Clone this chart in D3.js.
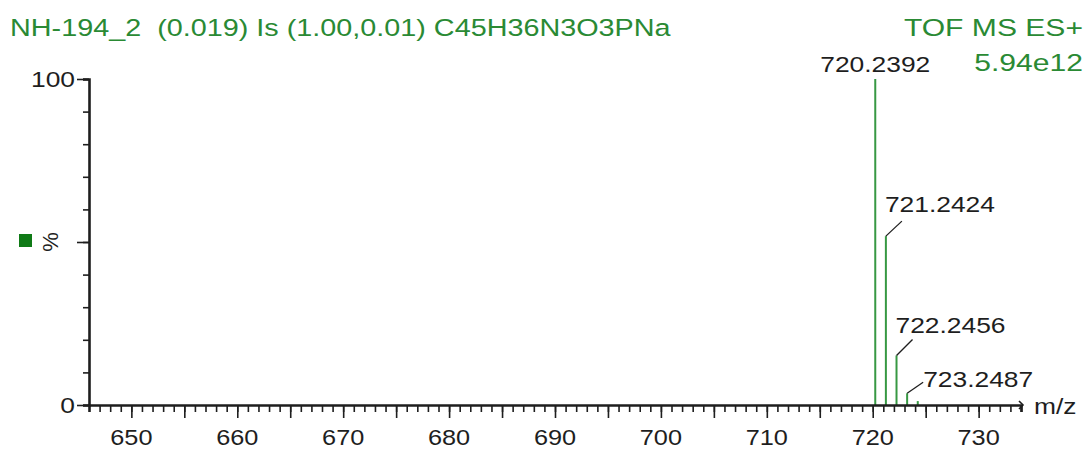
<!DOCTYPE html>
<html>
<head>
<meta charset="utf-8">
<script src="https://cdn.jsdelivr.net/npm/d3@7"></script>
<style>
  html, body { margin: 0; padding: 0; background: #fff; }
  svg { display: block; }
  text { font-family: "Liberation Sans", Arial, sans-serif; white-space: pre; }
</style>
</head>
<body>
<svg id="chart" width="1091" height="449"></svg>
<script>
// Spectrum header
const titleText = "NH-194_2  (0.019) Is (1.00,0.01) C45H36N3O3PNa";
const modeText = "TOF MS ES+";
const intensityText = "5.94e12";

// Isotope peaks (m/z, relative intensity %)
const peakMz = [720.2392, 721.2424, 722.2456, 723.2487, 724.2519];
const peakIntensity = [100, 51.8, 15.2, 3.6, 1.2];
const peakLabels = ["720.2392", "721.2424", "722.2456", "723.2487", null];

// Axis ticks
const xTickLabels = [650, 660, 670, 680, 690, 700, 710, 720, 730];
const yTickLabels = [0, 100];

const green = "#2a8a34";
const peakGreen = "#379843";
const ink = "#1e1e1e";

const svg = d3.select("#chart");

const x = d3.scaleLinear().domain([646, 734]).range([89, 1021]);
const y = d3.scaleLinear().domain([0, 100]).range([405, 79]);

function stretchedText(g, str, px, py, anchor, fill, size, sx) {
  return g.append("text")
    .attr("transform", `translate(${px},${py}) scale(${sx},1)`)
    .attr("text-anchor", anchor)
    .attr("fill", fill)
    .attr("font-size", size)
    .text(str);
}

// Header text
stretchedText(svg, titleText, 10, 36, "start", green, 23.5, 1.225);
stretchedText(svg, modeText, 1083, 36, "end", green, 23.5, 1.28);
stretchedText(svg, intensityText, 1083, 71, "end", green, 23.5, 1.28);

// Peaks
svg.append("g").selectAll("line.peak")
  .data(peakMz.map((m, i) => ({ m, v: peakIntensity[i] })))
  .join("line")
  .attr("class", "peak")
  .attr("x1", d => x(d.m)).attr("x2", d => x(d.m))
  .attr("y1", y(0)).attr("y2", d => y(d.v))
  .attr("stroke", peakGreen)
  .attr("stroke-width", 2);

// Peak annotations: placement of each label relative to its peak top
const labelLayout = [
  { dx: 0, dy: -7, anchor: "middle", leader: null },
  { dx: -1, dy: -24, anchor: "start", leader: [16, -15] },
  { dx: -1, dy: -22, anchor: "start", leader: [16, -16] },
  { dx: 16, dy: -6, anchor: "start", leader: [16, -11] }
];
const ann = svg.append("g");
peakMz.forEach((m, i) => {
  if (!peakLabels[i]) return;
  const lx = x(m), ly = y(peakIntensity[i]);
  const L = labelLayout[i];
  if (L.leader) {
    ann.append("line")
      .attr("x1", lx).attr("y1", ly)
      .attr("x2", lx + L.leader[0]).attr("y2", ly + L.leader[1])
      .attr("stroke", ink).attr("stroke-width", 1.3);
  }
  stretchedText(ann, peakLabels[i], lx + L.dx, ly + L.dy, L.anchor, ink, 22, 1.2);
});

// Y axis: minor ticks every 10 %, long ticks at 0/50/100
const yAxisG = svg.append("g").attr("transform", `translate(${x(646)},0)`);
yAxisG.call(d3.axisLeft(y).tickValues(d3.range(0, 101, 10)).tickSize(6).tickFormat(""))
  .call(g => g.select(".domain").attr("stroke", ink).attr("stroke-width", 2.6));
yAxisG.selectAll(".tick line").attr("stroke", ink).attr("stroke-width", 1.6);
const yMajor = svg.append("g").attr("transform", `translate(${x(646)},0)`);
yMajor.call(d3.axisLeft(y).tickValues([0, 50, 100]).tickSize(12).tickFormat(""))
  .call(g => g.select(".domain").remove());
yMajor.selectAll(".tick line").attr("stroke", ink).attr("stroke-width", 1.6);
yTickLabels.forEach(v => {
  stretchedText(svg, String(v), 75, y(v) + 8, "end", ink, 22, 1.2);
});

// Y axis caption
svg.append("rect").attr("x", 19).attr("y", y(50) - 8).attr("width", 13).attr("height", 13)
  .attr("fill", "#0f7a16");
svg.append("text")
  .attr("transform", `translate(${58},${y(50)}) rotate(-90)`)
  .attr("text-anchor", "middle")
  .attr("fill", ink)
  .attr("font-size", 22)
  .text("%");

// X axis: minor ticks each unit, longer ticks every 5
const xAxisG = svg.append("g").attr("transform", `translate(0,${y(0)})`);
xAxisG.call(d3.axisBottom(x).tickValues(d3.range(647, 735, 1)).tickSize(7).tickFormat(""))
  .call(g => g.select(".domain").attr("stroke", ink).attr("stroke-width", 2.6));
xAxisG.selectAll(".tick line").attr("stroke", ink).attr("stroke-width", 1.6);
const xMajor = svg.append("g").attr("transform", `translate(0,${y(0)})`);
xMajor.call(d3.axisBottom(x).tickValues(d3.range(650, 731, 5)).tickSize(13).tickFormat(""))
  .call(g => g.select(".domain").remove());
xMajor.selectAll(".tick line").attr("stroke", ink).attr("stroke-width", 1.6);
xTickLabels.forEach(v => {
  stretchedText(svg, String(v), x(v), y(0) + 40, "middle", ink, 22, 1.15);
});

// Axis end cap and unit
svg.append("path")
  .attr("d", `M${x(734) - 2},${y(0) - 4} L${x(734) + 2},${y(0)} L${x(734) - 2},${y(0) + 4}`)
  .attr("fill", "none").attr("stroke", ink).attr("stroke-width", 1.6);
stretchedText(svg, "m/z", 1034, y(0) + 9, "start", ink, 22, 1.2);
</script>
</body>
</html>
